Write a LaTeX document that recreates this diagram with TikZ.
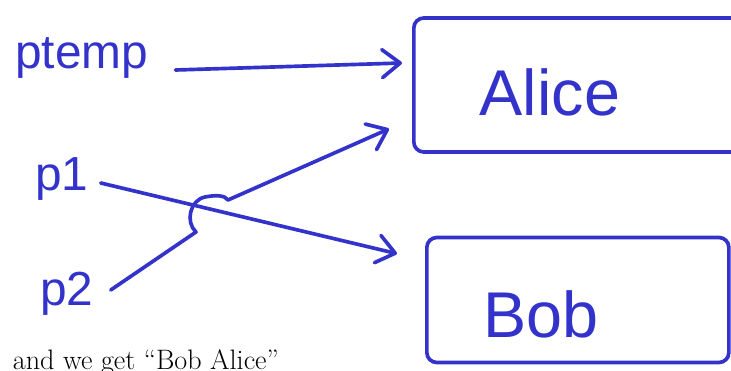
\documentclass[tikz,border=0pt]{standalone}
\usepackage{fontspec}
\newfontfamily\handfont{Liberation Sans}
\usetikzlibrary{arrows.meta}
\definecolor{ink}{HTML}{3333CC}
\begin{document}
\begin{tikzpicture}[x=0.025cm,y=-0.025cm,
	var/.style={inner sep=0pt, text=ink, font=\handfont\fontsize{34}{34}\selectfont},
	box/.style={rectangle, draw=ink, line width=2.6pt, rounded corners=0.25cm, align=left, text=ink, text depth=0pt, font=\handfont\fontsize{46}{46}\selectfont},
	link/.style={draw=ink, line width=2.6pt, line cap=round, line join=round, -{Straight Barb[length=0.45cm,width=0.7cm,round]}}]
	\path[use as bounding box, clip] (0,0) rectangle (731,370);
	
	%Nodes
	\node[var, anchor=base west]	(ptemp)	at (15,68)	{ptemp};
	\node[var, anchor=base west]	(p1)	at (35,190)	{p1};
	\node[var, anchor=base west]	(p2)	at (40,305)	{p2};
	\node[box, anchor=west, minimum height=3.35cm, inner xsep=1.65cm, text width=6cm, text height=1.5cm]	(alice)	at (412,85)	{Alice};
	\node[box, anchor=west, minimum height=3.125cm, inner xsep=1.425cm, text width=4.7cm, text height=1.85cm]	(bob)	at (425,300)	{Bob};
	\node[anchor=base west, font=\fontsize{20}{22}\selectfont]	(result)	at (8,369)	{and we get “Bob Alice”};
	
	%Lines
	\draw[link] ([xshift=0.675cm,yshift=-0.05cm]ptemp.base east) -- ([xshift=-0.25cm,yshift=0.55cm]alice.west);
	\draw[link] ([xshift=0.3cm,yshift=0.175cm]p1.base east) -- ([xshift=-0.7cm,yshift=-0.45cm]bob.north west);
	\draw[link] ([xshift=0.425cm,yshift=0.375cm]p2.base east) -- (196,232) .. controls (185,222) and (190,200) .. (205,197) .. controls (215,195) and (225,195) .. (228,200) -- ([xshift=-0.575cm,yshift=0.625cm]alice.south west);
\end{tikzpicture}
\end{document}
